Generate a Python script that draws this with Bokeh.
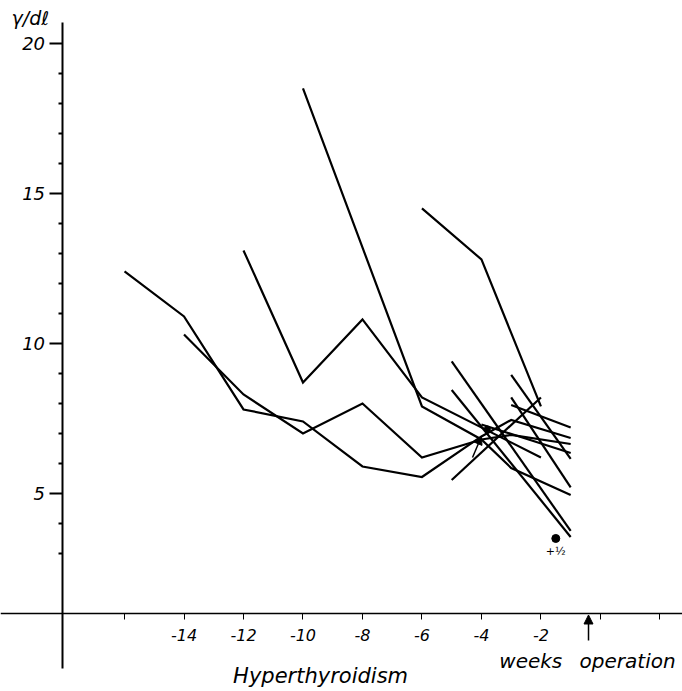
from bokeh.plotting import figure
from bokeh.models import Range1d, LinearAxis, FixedTicker, Arrow, NormalHead, Label, ColumnDataSource
from bokeh.core.properties import value
from bokeh.embed import file_html
from bokeh.resources import INLINE

# Serum level (γ/dl) per patient, by weeks before the operation (week 0)
a_weeks = [-16, -14, -12, -10, -8, -6, -4, -3, -1]
a_vals = [12.4, 10.9, 7.8, 7.4, 5.9, 5.55, 6.9, 7.45, 6.85]
b_weeks = [-14, -12, -10, -8, -6, -4, -3, -1]
b_vals = [10.3, 8.3, 7.0, 8.0, 6.2, 6.8, 6.95, 6.65]
c_weeks = [-12, -10, -8, -6, -2]
c_vals = [13.1, 8.7, 10.8, 8.2, 6.2]
d_weeks = [-10, -6, -4, -3, -1]
d_vals = [18.5, 7.9, 6.8, 5.85, 4.95]
e_weeks = [-6, -4, -2]
e_vals = [14.5, 12.8, 7.9]
f_weeks = [-5, -1]
f_vals = [9.4, 3.75]
g_weeks = [-5, -1]
g_vals = [8.45, 3.55]
h_weeks = [-5, -2]
h_vals = [5.45, 8.2]
i_weeks = [-3, -1]
i_vals = [8.95, 6.15]
j_weeks = [-3, -1]
j_vals = [8.2, 5.2]
k_weeks = [-3, -1]
k_vals = [7.95, 7.2]
n_weeks = [-4, -1]
n_vals = [7.3, 6.35]

# single post-treatment reading
dot_week = [-1.5]
dot_val = [3.5]
dot_note = ["+½"]

marker_week = [-3.8]
marker_val = [7.15]

y_ticks = [5, 10, 15, 20]
y_minor = [3, 4, 6, 7, 8, 9, 11, 12, 13, 14, 16, 17, 18, 19]
x_ticks = [-14, -12, -10, -8, -6, -4, -2]
x_tick_labels = ["-14", "-12", "-10", "-8", "-6", "-4", "-2"]
x_minor = [-16, 0, 2]

FONT = "DejaVu Sans"

p = figure(width=682, height=691, x_range=Range1d(-20.17, 2.76), y_range=Range1d(-1.6, 21.43),
           x_axis_type=None, y_axis_type=None, output_backend="svg", toolbar_location=None,
           min_border=0)
p.outline_line_color = None
p.background_fill_color = "white"

# vertical axis
yax = LinearAxis(fixed_location=-18.1, bounds=(-0.85, 20.7),
                 ticker=FixedTicker(ticks=y_ticks, minor_ticks=y_minor))
yax.axis_line_width = 2
yax.major_tick_in = 0
yax.major_tick_out = 13
yax.major_tick_line_width = 2
yax.minor_tick_in = 0
yax.minor_tick_out = 4
yax.minor_tick_line_width = 2
yax.major_label_standoff = 4
yax.major_label_text_font = FONT
yax.major_label_text_font_style = "italic"
yax.major_label_text_font_size = "18px"
yax.major_label_text_color = "black"
p.add_layout(yax, "left")

# horizontal axis
xax = LinearAxis(fixed_location=1, bounds=(-20.17, 2.76),
                 ticker=FixedTicker(ticks=x_ticks, minor_ticks=x_minor))
xax.major_label_overrides = {t: s for t, s in zip(x_ticks, x_tick_labels)}
xax.axis_line_width = 1.6
xax.major_tick_in = 0
xax.major_tick_out = 6
xax.minor_tick_in = 0
xax.minor_tick_out = 6
xax.major_label_standoff = 10
xax.major_label_text_font = FONT
xax.major_label_text_font_style = "italic"
xax.major_label_text_font_size = "16px"
xax.major_label_text_color = "black"
p.add_layout(xax, "below")

series = [(a_weeks, a_vals), (b_weeks, b_vals), (c_weeks, c_vals), (d_weeks, d_vals),
          (e_weeks, e_vals), (f_weeks, f_vals), (g_weeks, g_vals), (h_weeks, h_vals),
          (i_weeks, i_vals), (j_weeks, j_vals), (k_weeks, k_vals), (n_weeks, n_vals)]
src = ColumnDataSource(dict(xs=[s[0] for s in series], ys=[s[1] for s in series]))
p.multi_line("xs", "ys", source=src, line_color="black", line_width=2.2, line_join="miter")

p.scatter(dot_week, dot_val, size=8, color="black")
p.text(dot_week, [v - 0.45 for v in dot_val], text=dot_note, text_font=value(FONT),
       text_font_size="11px", text_align="center", text_baseline="middle", text_color="black")
p.scatter(marker_week, marker_val, size=6, color="black")

p.add_layout(Arrow(end=NormalHead(size=8, fill_color="black", line_color="black"),
                   x_start=-4.3, y_start=6.2, x_end=-4.0, y_end=6.9, line_width=1.5))
p.add_layout(Arrow(end=NormalHead(size=9, fill_color="black", line_color="black"),
                   x_start=-0.4, y_start=0.1, x_end=-0.4, y_end=0.95, line_width=1.5))

p.add_layout(Label(x=-19.8, y=20.85, text="γ/dℓ", text_font=FONT, text_font_style="italic",
                   text_font_size="19px", text_baseline="middle", text_color="black"))
p.add_layout(Label(x=-12.35, y=-1.07, text="Hyperthyroidism", text_font=FONT, text_font_style="italic",
                   text_font_size="21px", text_baseline="alphabetic", text_color="black"))
p.add_layout(Label(x=-3.4, y=-0.57, text="weeks", text_font=FONT, text_font_style="italic",
                   text_font_size="20px", text_baseline="alphabetic", text_color="black"))
p.add_layout(Label(x=-0.7, y=-0.57, text="operation", text_font=FONT, text_font_style="italic",
                   text_font_size="20px", text_baseline="alphabetic", text_color="black"))

open("out.html", "w").write(file_html(p, INLINE))
